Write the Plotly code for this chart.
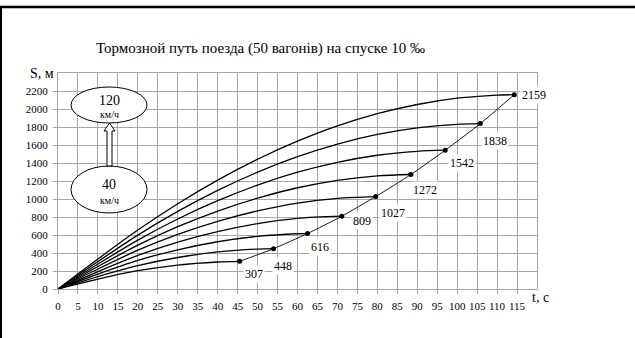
import plotly.graph_objects as go

# ---------------- data ----------------
title_text = "Тормозной путь поезда (50 вагонів) на спуске 10 ‰"
x_ticks = list(range(0, 120, 5))
y_ticks = list(range(0, 2400, 200))

t_40 = [0, 10, 20, 30, 40, 45.5]
s_40 = [0, 110, 203, 266, 300, 307]
t_50 = [0, 10, 20, 30, 40, 50, 54]
s_50 = [0, 138, 260, 350, 412, 444, 448]
t_60 = [0, 10, 20, 30, 40, 50, 60, 62.5]
s_60 = [0, 166, 318, 436, 525, 585, 614, 616]
t_70 = [0, 10, 20, 30, 40, 50, 60, 71.1]
s_70 = [0, 194, 374, 522, 638, 726, 785, 809]
t_80 = [0, 10, 20, 30, 40, 50, 60, 70, 79.6]
s_80 = [0, 222, 431, 607, 752, 868, 955, 1008, 1027]
t_90 = [0, 10, 20, 30, 40, 50, 60, 70, 80, 88.4]
s_90 = [0, 250, 487, 692, 866, 1010, 1125, 1208, 1257, 1272]
t_100 = [0, 10, 20, 30, 40, 50, 60, 70, 80, 90, 97]
s_100 = [0, 277, 543, 778, 981, 1155, 1298, 1408, 1486, 1530, 1542]
t_110 = [0, 10, 20, 30, 40, 50, 60, 70, 80, 90, 100, 105.8]
s_110 = [0, 305, 599, 862, 1095, 1298, 1470, 1610, 1717, 1790, 1830, 1838]
t_120 = [0, 10, 20, 30, 40, 50, 60, 70, 80, 90, 100, 110, 114.3]
s_120 = [0, 333, 655, 948, 1210, 1442, 1642, 1812, 1948, 2050, 2120, 2154, 2159]

curves = [(t_40, s_40), (t_50, s_50), (t_60, s_60), (t_70, s_70), (t_80, s_80),
          (t_90, s_90), (t_100, s_100), (t_110, s_110), (t_120, s_120)]

end_t = [45.5, 54, 62.5, 71.1, 79.6, 88.4, 97, 105.8, 114.3]
end_s = [307, 448, 616, 809, 1027, 1272, 1542, 1838, 2159]
label_dx = [14, 9, 13, 20, 17, 14, 17, 15, 6]
label_dy = [13, 17, 13, 5, 16, 15, 13, 17, 0]

# ---------------- layout helpers ----------------
W, H = 635, 338
L, R, T, B = 58, 98, 73, 49
PW, PH = W - L - R, H - T - B


def px(x):
    return (x - L) / PW


def py(y):
    return (H - B - y) / PH


SERIF = "Liberation Serif, Times New Roman, serif"
GRID = "#a6a6a6"

fig = go.Figure()
for tt, ss in curves:
    fig.add_trace(go.Scatter(x=tt, y=ss, mode="lines",
                             line=dict(color="black", width=1.3, shape="spline", smoothing=0.8),
                             hoverinfo="skip", showlegend=False))

fig.add_trace(go.Scatter(x=end_t, y=end_s, mode="lines+markers",
                         line=dict(color="black", width=0.9, shape="spline", smoothing=0.6),
                         marker=dict(color="black", size=5),
                         showlegend=False))

annotations = []
for t, s, dx, dy in zip(end_t, end_s, label_dx, label_dy):
    annotations.append(dict(x=t, y=s, xref="x", yref="y", text=str(s), showarrow=False,
                            xshift=dx, yshift=-dy, xanchor="left" if dy == 0 else "center",
                            font=dict(family=SERIF, size=12, color="black"),
                            bgcolor="white", borderpad=1))

annotations.append(dict(x=px(260), y=py(48), xref="paper", yref="paper", text=title_text,
                        showarrow=False, xanchor="center", yanchor="middle",
                        font=dict(family=SERIF, size=15, color="black")))
annotations.append(dict(x=px(56), y=py(73), xref="paper", yref="paper", text="S, м",
                        showarrow=False, xanchor="right", yanchor="middle",
                        font=dict(family=SERIF, size=14, color="black")))
annotations.append(dict(x=px(540), y=py(297), xref="paper", yref="paper", text="t, c",
                        showarrow=False, xanchor="center", yanchor="middle",
                        font=dict(family=SERIF, size=14, color="black")))

# ellipse labels
for txt, x, y, sz in [("120", 109, 100, 14), ("км/ч", 109, 114, 10),
                      ("40", 109, 184, 14), ("км/ч", 109, 200, 10)]:
    annotations.append(dict(x=px(x), y=py(y), xref="paper", yref="paper", text=txt,
                            showarrow=False, xanchor="center", yanchor="middle",
                            font=dict(family=SERIF, size=sz, color="black")))

shapes = [
    dict(type="circle", xref="paper", yref="paper", x0=px(71), x1=px(147), y0=py(123), y1=py(87),
         line=dict(color="black", width=1), fillcolor="white", layer="above"),
    dict(type="circle", xref="paper", yref="paper", x0=px(71), x1=px(147), y0=py(213), y1=py(166),
         line=dict(color="black", width=1), fillcolor="white", layer="above"),
]
arrow_pts = [(107, 166), (107, 131), (104, 131), (109.5, 123), (115, 131), (112, 131), (112, 166)]
path = "M " + " L ".join(f"{px(a):.5f},{py(b):.5f}" for a, b in arrow_pts) + " Z"
shapes.append(dict(type="path", xref="paper", yref="paper", path=path,
                   line=dict(color="black", width=1), fillcolor="white", layer="above"))
# outer frame (top and left edges)
shapes.append(dict(type="line", xref="paper", yref="paper", x0=px(0), x1=px(640), y0=py(7), y1=py(7),
                   line=dict(color="black", width=2.5)))
shapes.append(dict(type="line", xref="paper", yref="paper", x0=px(0.8), x1=px(0.8), y0=py(6), y1=py(345),
                   line=dict(color="black", width=2.5)))

fig.update_layout(
    width=W, height=H,
    margin=dict(l=L, r=R, t=T, b=B, pad=0),
    paper_bgcolor="white", plot_bgcolor="white",
    annotations=annotations, shapes=shapes,
    font=dict(family=SERIF, color="black"),
)
fig.update_xaxes(range=[0, 120], tickvals=x_ticks, ticktext=[str(v) for v in x_ticks],
                 showgrid=True, gridcolor=GRID, gridwidth=1, zeroline=False,
                 showline=True, linecolor=GRID, linewidth=1, mirror=True,
                 ticks="outside", ticklen=4, tickcolor=GRID, ticklabelstandoff=3,
                 tickfont=dict(family=SERIF, size=11, color="black"))
fig.update_yaxes(range=[0, 2400], tickvals=y_ticks, ticktext=[str(v) for v in y_ticks],
                 showgrid=True, gridcolor=GRID, gridwidth=1, zeroline=False,
                 showline=True, linecolor=GRID, linewidth=1, mirror=True,
                 ticks="outside", ticklen=4, tickcolor=GRID, ticklabelstandoff=3,
                 tickfont=dict(family=SERIF, size=11, color="black"))

fig.write_html("out.html", config={"displayModeBar": False},
               post_script="document.body.style.margin='0';document.body.style.overflow='hidden';")
